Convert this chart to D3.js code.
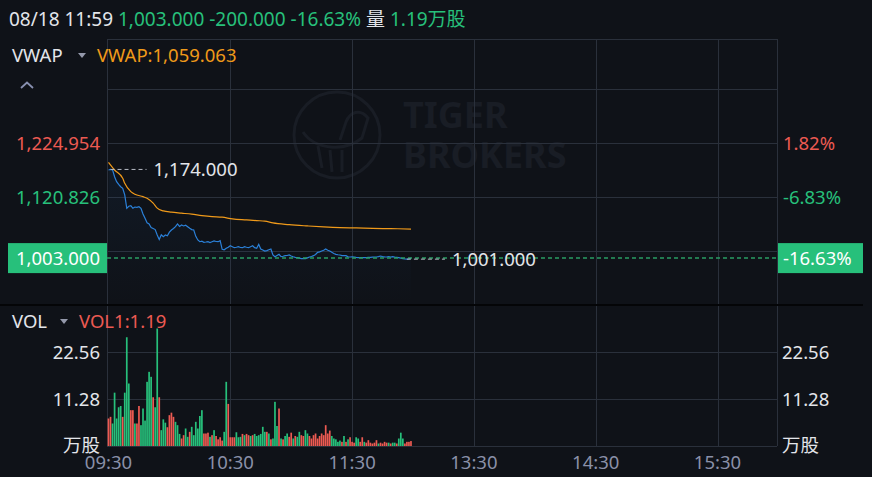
<!DOCTYPE html>
<html><head>
<meta charset="utf-8">
<title>VWAP intraday</title>
<script src="https://d3js.org/d3.v7.min.js"></script>
<style>
  body { margin: 0; background: #0f1218; }
  svg text { font-family: "Noto Sans", "Noto Sans CJK SC", sans-serif; }
</style>
</head>
<body>
<svg id="chart" width="872" height="477"></svg>
<script>

// ---- data ----
const prevClose = 1203.0;
const lastPrice = 1003.0;
const lastVwap = 1059.063;
const lastVol = 1.19;

const timeLabels = ["09:30", "10:30", "11:30", "13:30", "14:30", "15:30"];
const priceGrid = [1329.082, 1224.954, 1120.826, 1016.698];
const priceLabels = [1224.954, 1120.826];
const volTicks = [11.28, 22.56];

// one close per minute from 09:30
const prices = [
  1172.9, 1174.0, 1173.0, 1160.0, 1150.5, 1145.3, 1140.7, 1137.6, 1125.0, 1099.0,
  1103.0, 1104.0, 1099.0, 1101.5, 1101.0, 1102.1, 1099.0, 1088.0, 1079.7, 1071.0,
  1069.0, 1062.0, 1060.0, 1058.0, 1047.6, 1039.0, 1048.0, 1044.3, 1047.6, 1046.0,
  1053.0, 1057.2, 1060.0, 1063.6, 1069.0, 1064.0, 1066.8, 1065.0, 1066.5, 1063.6,
  1060.5, 1058.0, 1057.2, 1045.0, 1038.0, 1034.6, 1035.5, 1033.5, 1034.0, 1034.6,
  1033.0, 1034.5, 1036.0, 1035.0, 1034.6, 1036.5, 1020.0, 1019.0, 1022.0, 1024.0,
  1026.9, 1025.0, 1023.1, 1024.0, 1025.0, 1023.5, 1023.1, 1025.0, 1024.0, 1023.1,
  1025.0, 1026.9, 1023.1, 1021.9, 1029.6, 1020.5, 1018.6, 1016.7, 1017.5, 1019.0,
  1020.5, 1009.0, 1005.7, 1008.0, 1010.3, 1005.7, 1006.5, 1007.7, 1008.0, 1009.0,
  1007.0, 1005.7, 1004.5, 1003.8, 1003.0, 1002.0, 1002.0, 1002.0, 1003.5, 1005.1,
  1006.0, 1007.7, 1010.0, 1014.2, 1015.0, 1016.7, 1018.0, 1020.5, 1018.0, 1016.7,
  1014.2, 1012.0, 1010.3, 1009.5, 1009.0, 1007.7, 1008.0, 1007.7, 1005.5, 1005.1,
  1005.5, 1005.1, 1004.5, 1004.0, 1003.8, 1003.8, 1004.2, 1004.0, 1004.5, 1004.5,
  1005.0, 1005.1, 1005.1, 1006.0, 1007.0, 1006.0, 1005.5, 1005.1, 1005.7, 1005.0,
  1005.7, 1005.0, 1004.5, 1003.8, 1003.0, 1002.0, 1001.3, 1001.0, 1001.5, 1003.0
];

// VWAP readings: minute index and value
const vwapMinutes = [0, 3, 7, 8, 11, 13, 17, 19, 22, 24, 27, 31, 36, 41, 46, 51, 56, 61, 68, 73, 77, 81, 89, 98, 106, 114, 122, 130, 139, 149];
const vwapValues = [1187.7, 1172.9, 1156.9, 1147.3, 1131.2, 1126.2, 1121.6, 1118.5, 1108.9, 1099.3,
  1094.0, 1091.5, 1089.6, 1087.7, 1085.0, 1083.0, 1081.9, 1078.7, 1076.7, 1075.3,
  1074.4, 1070.8, 1067.5, 1065.0, 1063.1, 1061.7, 1061.1, 1060.3, 1059.8, 1059.063];

// volume per minute, 万股
const volumes = [
  6.6, 7.0, 5.4, 12.8, 6.6, 9.3, 9.6, 7.0, 12.8, 26.1,
  15.0, 8.6, 8.6, 5.4, 5.4, 9.6, 5.0, 9.0, 6.1, 15.4,
  17.8, 16.6, 11.7, 9.3, 28.2, 11.7, 3.8, 6.4, 5.6, 4.5,
  7.4, 8.0, 7.0, 5.8, 5.0, 2.9, 1.8, 2.6, 4.2, 2.2,
  3.4, 4.6, 2.6, 5.8, 4.2, 7.2, 8.6, 3.0, 3.0, 3.2,
  2.2, 2.6, 3.8, 2.4, 1.6, 2.1, 1.3, 3.4, 15.4, 10.1,
  2.1, 2.1, 2.1, 3.3, 2.1, 2.2, 2.9, 2.6, 2.9, 2.6,
  2.4, 2.6, 2.9, 2.4, 2.6, 2.9, 4.6, 3.4, 3.4, 3.0,
  1.6, 1.8, 10.6, 4.8, 9.0, 1.8, 1.6, 2.4, 3.0, 2.2,
  3.2, 1.8, 2.4, 2.2, 3.4, 2.6, 2.4, 3.8, 3.0, 2.4,
  1.8, 2.6, 3.0, 1.8, 2.4, 3.0, 2.6, 5.0, 3.0, 3.7,
  2.4, 1.8, 1.6, 1.0, 1.3, 1.0, 2.4, 1.0, 1.6, 2.1,
  1.0, 0.8, 2.1, 1.8, 1.0, 2.1, 1.0, 0.8, 1.4, 0.8,
  0.6, 0.8, 1.4, 0.6, 0.8, 0.6, 1.0, 0.8, 0.8, 0.6,
  0.8, 0.8, 0.6, 1.8, 3.2, 1.8, 0.6, 1.0, 1.0, 1.19
];
// bar colour per minute: g = up, r = down
const volDir = "rrgggggrgg" + "grrgrrgggg" + "ggrggrgggr" + "rrrgggrrgg" + "rggggggrrr" +
               "grgrrrrggr" + "rrrgggrgrr" + "grggggggrg" + "rgggrgrggr" + "rgrggrrggr" +
               "rrrrrrrrrr" + "gggggrgrgr" + "rrggrrgrrr" + "rrrgrrrrgr" + "ggrgggrrrr";

// ---- colours ----
const green = "#27c07b";
const red = "#ec5a52";
const orange = "#f09a1a";
const blue = "#2b80d8";
const gridColor = "#2a303b";
const white = "#e3e5ea";
const axisGray = "#8a90a8";

const svg = d3.select("#chart");
const fs = 18.5;
// plain hyphen for negatives, like the app
const fmt = d => d3.format(",.3f")(d).replace("\u2212", "-");
const pct = d => d3.format(".2f")(d).replace("\u2212", "-") + "%";

// trading minutes since 09:30, lunch break 12:00-13:00 removed
function tradingMinute(t) {
  const [h, m] = t.split(":").map(Number);
  let mins = h * 60 + m - (9 * 60 + 30);
  if (h >= 13) mins -= 60;
  return mins;
}

const left = 107, right = 777;
const x = d3.scaleLinear().domain([0, 330]).range([108.5, 108.5 + 330 * 2.03]);
const y = d3.scaleLinear().domain([1224.954, 1120.826]).range([143, 197]);
const yVol = d3.scaleLinear().domain([0, 33.84]).range([446, 305]);

// ---- watermark ----
const wm = svg.append("g").attr("fill", "none").attr("stroke", "#191d25");
wm.append("circle").attr("cx", 337).attr("cy", 135).attr("r", 43).attr("stroke-width", 3);
wm.append("path").attr("stroke-width", 3)
  .attr("d", "M303,132 C315,150 345,152 362,138 L368,118 C360,108 350,112 346,122 L340,140");
wm.append("path").attr("stroke-width", 3)
  .attr("d", "M318,146 L322,168 M330,150 L332,172 M342,150 L342,172");
svg.append("text").attr("x", 403).attr("y", 128).attr("fill", "#191d25")
  .attr("font-size", 36).attr("font-weight", 700).text("TIGER");
svg.append("text").attr("x", 403).attr("y", 168).attr("fill", "#191d25")
  .attr("font-size", 36).attr("font-weight", 700).text("BROKERS");

// ---- grids ----
const grid = svg.append("g").attr("stroke", gridColor).attr("stroke-width", 1);
grid.selectAll("line.h").data(priceGrid).join("line")
  .attr("x1", left).attr("x2", right)
  .attr("y1", d => Math.round(y(d)) + 0.5).attr("y2", d => Math.round(y(d)) + 0.5);
grid.selectAll("line.v").data(timeLabels.slice(1)).join("line")
  .attr("x1", d => Math.round(x(tradingMinute(d))) + 0.5).attr("x2", d => Math.round(x(tradingMinute(d))) + 0.5)
  .attr("y1", 39).attr("y2", 446);
grid.selectAll("line.vh").data(volTicks).join("line")
  .attr("x1", left).attr("x2", right)
  .attr("y1", d => Math.round(yVol(d)) + 0.5).attr("y2", d => Math.round(yVol(d)) + 0.5);
// frame
grid.append("line").attr("x1", left).attr("x2", right).attr("y1", 39.5).attr("y2", 39.5);
grid.append("line").attr("x1", left + 0.5).attr("x2", left + 0.5).attr("y1", 39).attr("y2", 446);
grid.append("line").attr("x1", right + 0.5).attr("x2", right + 0.5).attr("y1", 39).attr("y2", 446);
grid.append("line").attr("x1", left).attr("x2", right).attr("y1", 446.5).attr("y2", 446.5);
// panel separator
svg.append("line").attr("x1", 0).attr("x2", 863).attr("y1", 305).attr("y2", 305)
  .attr("stroke", "#040507").attr("stroke-width", 2);

// ---- price area + lines ----
const defs = svg.append("defs");
const grad = defs.append("linearGradient").attr("id", "area").attr("x1", 0).attr("x2", 0).attr("y1", 0).attr("y2", 1);
grad.append("stop").attr("offset", "0%").attr("stop-color", blue).attr("stop-opacity", 0.07);
grad.append("stop").attr("offset", "100%").attr("stop-color", blue).attr("stop-opacity", 0);

svg.append("path").datum(prices)
  .attr("fill", "url(#area)")
  .attr("d", d3.area().x((d, i) => x(i)).y0(304).y1(d => y(d)));

svg.append("path").datum(prices)
  .attr("fill", "none").attr("stroke", blue).attr("stroke-width", 1.2)
  .attr("d", d3.line().x((d, i) => x(i)).y(d => y(d)));

svg.append("path").datum(vwapMinutes.map((m, i) => [m, vwapValues[i]]))
  .attr("fill", "none").attr("stroke", orange).attr("stroke-width", 1.2)
  .attr("d", d3.line().x(d => x(d[0])).y(d => y(d[1])).curve(d3.curveMonotoneX));

// current price line
svg.append("line").attr("x1", left).attr("x2", right)
  .attr("y1", y(lastPrice)).attr("y2", y(lastPrice))
  .attr("stroke", "#2a9d63").attr("stroke-width", 1.5).attr("stroke-dasharray", "4,3");

// high / low markers
const hiVal = d3.max(prices), hiIdx = prices.indexOf(hiVal);
const loVal = d3.min(prices), loIdx = prices.lastIndexOf(loVal);
svg.append("line").attr("x1", x(hiIdx)).attr("x2", x(hiIdx) + 36)
  .attr("y1", y(hiVal)).attr("y2", y(hiVal))
  .attr("stroke", "#b8bcc6").attr("stroke-dasharray", "4,3");
svg.append("text").attr("x", x(hiIdx) + 43).attr("y", y(hiVal) + 6.5)
  .attr("fill", white).attr("font-size", fs).text(fmt(hiVal));
svg.append("line").attr("x1", x(loIdx)).attr("x2", x(loIdx) + 38)
  .attr("y1", y(loVal)).attr("y2", y(loVal))
  .attr("stroke", "#b8bcc6").attr("stroke-dasharray", "4,3");
svg.append("text").attr("x", x(loIdx) + 45).attr("y", y(loVal) + 6.5)
  .attr("fill", white).attr("font-size", fs).text(fmt(loVal));

// ---- volume bars ----
svg.append("g").selectAll("rect").data(volumes).join("rect")
  .attr("x", (d, i) => x(i) - 0.85)
  .attr("width", 1.7)
  .attr("y", d => yVol(d))
  .attr("height", d => yVol(0) - yVol(d))
  .attr("fill", (d, i) => volDir[i] === "g" ? green : red);

// ---- axis labels ----
const lab = svg.append("g").attr("font-size", fs);
lab.selectAll("text.pl").data(priceLabels).join("text")
  .attr("x", 100).attr("y", d => y(d) + 6.5).attr("text-anchor", "end")
  .attr("fill", d => d >= prevClose ? red : green).text(d => fmt(d));
lab.selectAll("text.pr").data(priceLabels).join("text")
  .attr("x", 783).attr("y", d => y(d) + 6.5)
  .attr("fill", d => d >= prevClose ? red : green)
  .text(d => pct((d / prevClose - 1) * 100));

// current price boxes
const yl = y(lastPrice);
svg.append("rect").attr("x", 8).attr("y", yl - 15).attr("width", 99).attr("height", 30).attr("fill", green);
svg.append("text").attr("x", 100).attr("y", yl + 6.5).attr("text-anchor", "end")
  .attr("fill", "#fff").attr("font-size", fs).text(fmt(lastPrice));
svg.append("rect").attr("x", 778).attr("y", yl - 15).attr("width", 85).attr("height", 30).attr("fill", green);
svg.append("text").attr("x", 783).attr("y", yl + 6.5)
  .attr("fill", "#fff").attr("font-size", fs).text(pct((lastPrice / prevClose - 1) * 100));

// volume ticks
lab.selectAll("text.vl").data(volTicks).join("text")
  .attr("x", 100).attr("y", d => yVol(d) + 6.5).attr("text-anchor", "end")
  .attr("fill", white).text(d => d.toFixed(2));
lab.selectAll("text.vr").data(volTicks).join("text")
  .attr("x", 782).attr("y", d => yVol(d) + 6.5)
  .attr("fill", white).text(d => d.toFixed(2));
lab.append("text").attr("x", 100).attr("y", 452).attr("text-anchor", "end")
  .attr("fill", white).text("万股");
lab.append("text").attr("x", 782).attr("y", 452)
  .attr("fill", white).text("万股");

// time axis
lab.selectAll("text.t").data(timeLabels).join("text")
  .attr("x", d => x(tradingMinute(d))).attr("y", 469).attr("text-anchor", "middle")
  .attr("fill", axisGray).text(d => d);

// ---- header and legends ----
const head = svg.append("text").attr("x", 9).attr("y", 26).attr("font-size", 19);
head.append("tspan").attr("fill", white).text("08/18 11:59 ");
head.append("tspan").attr("fill", green)
  .text(fmt(lastPrice) + " " + fmt(lastPrice - prevClose) + " " + pct((lastPrice / prevClose - 1) * 100) + " ");
head.append("tspan").attr("fill", white).text("量 ");
head.append("tspan").attr("fill", green).text(lastVol + "万股");

svg.append("text").attr("x", 12).attr("y", 62).attr("font-size", fs).attr("fill", white).text("VWAP");
svg.append("path").attr("d", "M78,53 L86,53 L82,58 Z").attr("fill", "#9499ab");
svg.append("text").attr("x", 97).attr("y", 62).attr("font-size", fs).attr("fill", orange)
  .text("VWAP:" + fmt(lastVwap));
svg.append("path").attr("d", "M21,88 L27,82.5 L33,88").attr("fill", "none")
  .attr("stroke", "#8890b0").attr("stroke-width", 1.8);

svg.append("text").attr("x", 12).attr("y", 327.5).attr("font-size", fs).attr("fill", white).text("VOL");
svg.append("path").attr("d", "M60,319 L68,319 L64,324 Z").attr("fill", "#9499ab");
svg.append("text").attr("x", 79).attr("y", 327.5).attr("font-size", fs).attr("fill", red)
  .text("VOL1:" + lastVol);

</script>
</body>
</html>
